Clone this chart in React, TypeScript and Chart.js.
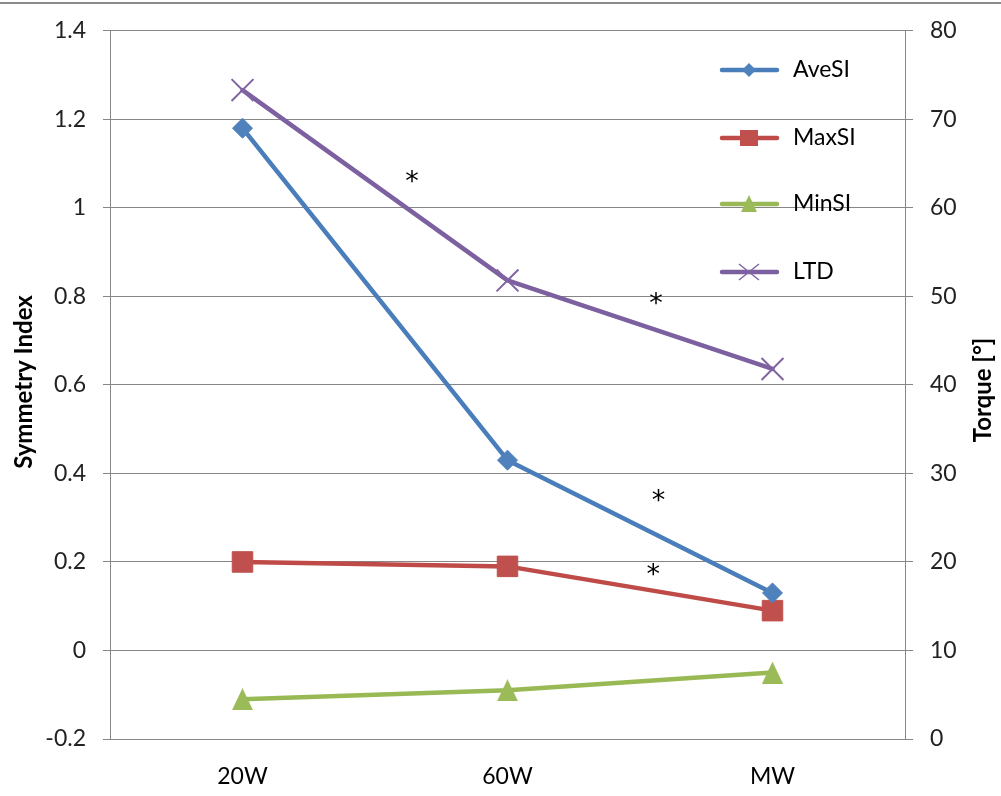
import React, { useEffect, useRef } from 'react';
import { Chart, registerables } from 'chart.js';

Chart.register(...registerables);

const categories = ['20W', '60W', 'MW'];
const aveSI = [1.18, 0.43, 0.13];
const maxSI = [0.2, 0.19, 0.09];
const minSI = [-0.11, -0.09, -0.05];
const ltd = [73.3, 51.8, 41.8];

const leftMin = -0.2;
const leftMax = 1.4;
const leftStep = 0.2;
const rightMin = 0;
const rightMax = 80;
const rightStep = 10;

// significance asterisks: fractional category index and left-axis value
const starX = [0.64, 1.56, 1.57, 1.55];
const starY = [1.07, 0.795, 0.35, 0.184];

const seriesNames = ['AveSI', 'MaxSI', 'MinSI', 'LTD'];

const BLUE = '#4A7EBB';
const BLUE_M = '#4F81BD';
const RED = '#BE4B48';
const RED_M = '#C0504D';
const GREEN = '#98B954';
const GREEN_M = '#9BBB59';
const PURPLE = '#7D60A0';
const PURPLE_M = '#8064A2';
const GRID = '#868686';
const FONT = 'Lato, "Open Sans", sans-serif';

function makeTriangle(w: number, h: number, color: string) {
  const c = document.createElement('canvas');
  c.width = w;
  c.height = h;
  const ctx = c.getContext('2d')!;
  ctx.fillStyle = color;
  ctx.beginPath();
  ctx.moveTo(w / 2, 0);
  ctx.lineTo(w, h);
  ctx.lineTo(0, h);
  ctx.closePath();
  ctx.fill();
  return c;
}

const extrasPlugin = {
  id: 'extras',
  beforeDraw(chart: any) {
    const ctx = chart.ctx;
    ctx.save();
    ctx.fillStyle = '#ffffff';
    ctx.fillRect(0, 0, chart.width, chart.height);
    ctx.fillStyle = '#8a8a8a';
    ctx.fillRect(0, 2, chart.width, 2);
    ctx.restore();
  },
  afterDraw(chart: any) {
    const ctx = chart.ctx;
    const xs = chart.scales.x;
    const ys = chart.scales.y;
    ctx.save();
    // axis titles
    ctx.fillStyle = '#000';
    ctx.font = `bold 24px ${FONT}`;
    ctx.textAlign = 'center';
    ctx.textBaseline = 'middle';
    ctx.save();
    ctx.translate(24, 382);
    ctx.rotate(-Math.PI / 2);
    ctx.fillText('Symmetry Index', 0, 0);
    ctx.restore();
    ctx.save();
    ctx.translate(983, 390);
    ctx.rotate(-Math.PI / 2);
    ctx.fillText('Torque [°]', 0, 0);
    ctx.restore();

    // asterisks
    ctx.font = `27px "DejaVu Sans", sans-serif`;
    ctx.textBaseline = 'alphabetic';
    for (let i = 0; i < starX.length; i++) {
      const px = xs.getPixelForValue(starX[i]);
      const py = ys.getPixelForValue(starY[i]);
      const m = ctx.measureText('*');
      const asc = m.actualBoundingBoxAscent;
      const desc = m.actualBoundingBoxDescent;
      ctx.fillText('*', px, py + (asc - desc) / 2);
    }

    // legend
    const lx0 = 722;
    const lx1 = 777;
    const mx = 749;
    const tx = 793;
    const ly = [70, 138, 204, 272];
    const lineColors = [BLUE, RED, GREEN, PURPLE];
    ctx.font = `23px ${FONT}`;
    ctx.textAlign = 'left';
    ctx.textBaseline = 'middle';
    for (let i = 0; i < 4; i++) {
      const y = ly[i];
      ctx.strokeStyle = lineColors[i];
      ctx.lineWidth = 4.5;
      ctx.lineCap = 'round';
      ctx.beginPath();
      ctx.moveTo(lx0, y);
      ctx.lineTo(lx1, y);
      ctx.stroke();
      if (i === 0) {
        ctx.fillStyle = BLUE_M;
        ctx.beginPath();
        ctx.moveTo(mx, y - 7);
        ctx.lineTo(mx + 7, y);
        ctx.lineTo(mx, y + 7);
        ctx.lineTo(mx - 7, y);
        ctx.closePath();
        ctx.fill();
      } else if (i === 1) {
        ctx.fillStyle = RED_M;
        ctx.fillRect(mx - 9, y - 8, 18, 16);
      } else if (i === 2) {
        ctx.fillStyle = GREEN_M;
        ctx.beginPath();
        ctx.moveTo(mx, y - 9);
        ctx.lineTo(mx + 8, y + 8);
        ctx.lineTo(mx - 8, y + 8);
        ctx.closePath();
        ctx.fill();
      } else {
        ctx.strokeStyle = PURPLE_M;
        ctx.lineWidth = 1.5;
        ctx.lineCap = 'butt';
        ctx.beginPath();
        ctx.moveTo(mx - 10, y - 8);
        ctx.lineTo(mx + 10, y + 8);
        ctx.moveTo(mx + 10, y - 8);
        ctx.lineTo(mx - 10, y + 8);
        ctx.stroke();
      }
      ctx.fillStyle = '#000';
      ctx.fillText(seriesNames[i], tx, y);
    }
    ctx.restore();
  },
};

export default function App() {
  const ref = useRef<HTMLCanvasElement>(null);
  useEffect(() => {
    if (!ref.current) return;
    const tri = makeTriangle(21, 22, GREEN_M);
    const chart = new Chart(ref.current, {
      type: 'line',
      data: {
        labels: categories,
        datasets: [
          {
            label: seriesNames[0],
            data: aveSI,
            yAxisID: 'y',
            borderColor: BLUE,
            borderWidth: 4.5,
            pointStyle: 'rectRot',
            pointRadius: 10,
            pointBackgroundColor: BLUE_M,
            pointBorderColor: BLUE_M,
            pointBorderWidth: 1,
            tension: 0,
            borderJoinStyle: 'round',
            borderCapStyle: 'round',
          },
          {
            label: seriesNames[1],
            data: maxSI,
            yAxisID: 'y',
            borderColor: RED,
            borderWidth: 4.5,
            pointStyle: 'rect',
            pointRadius: 14.5,
            pointBackgroundColor: RED_M,
            pointBorderColor: RED_M,
            pointBorderWidth: 1,
            tension: 0,
            borderJoinStyle: 'round',
            borderCapStyle: 'round',
          },
          {
            label: seriesNames[2],
            data: minSI,
            yAxisID: 'y',
            borderColor: GREEN,
            borderWidth: 4.5,
            pointStyle: tri as any,
            pointRadius: 10,
            tension: 0,
            borderJoinStyle: 'round',
            borderCapStyle: 'round',
          },
          {
            label: seriesNames[3],
            data: ltd,
            yAxisID: 'y1',
            borderColor: PURPLE,
            borderWidth: 4.5,
            pointStyle: 'crossRot',
            pointRadius: 15.5,
            pointBorderColor: PURPLE_M,
            pointBorderWidth: 2,
            tension: 0,
            borderJoinStyle: 'round',
            borderCapStyle: 'round',
          },
        ],
      },
      options: {
        responsive: false,
        animation: false,
        devicePixelRatio: 1,
        layout: { padding: { top: 26, left: 0, right: 0, bottom: 0 } },
        plugins: {
          legend: { display: false },
          tooltip: { enabled: false },
        },
        scales: {
          x: {
            type: 'category',
            offset: true,
            grid: { display: false, drawTicks: false },
            border: { display: false },
            ticks: {
              color: '#000',
              font: { family: FONT, size: 23 },
              padding: 24,
            },
            afterFit: (s: any) => {
              s.height = 57;
            },
          },
          y: {
            position: 'left',
            min: leftMin,
            max: leftMax,
            grid: { color: GRID, lineWidth: 1, tickLength: 7, tickColor: GRID },
            border: { color: GRID, width: 1 },
            ticks: {
              stepSize: leftStep,
              color: '#222',
              font: { family: FONT, size: 23 },
              padding: 17,
              callback: (v: any) => String(Number(Number(v).toFixed(1))),
            },
            afterFit: (s: any) => {
              s.width = 110;
            },
          },
          y1: {
            position: 'right',
            min: rightMin,
            max: rightMax,
            grid: { drawOnChartArea: false, tickLength: 8, color: GRID, tickColor: GRID },
            border: { color: GRID, width: 1 },
            ticks: {
              stepSize: rightStep,
              color: '#222',
              font: { family: FONT, size: 23 },
              padding: 17,
            },
            afterFit: (s: any) => {
              s.width = 96;
            },
          },
        },
      },
      plugins: [extrasPlugin],
    });
    return () => chart.destroy();
  }, []);
  return (
    <div style={{ position: 'absolute', left: 0, top: 0, width: 1001, height: 796, background: '#fff' }}>
      <canvas ref={ref} width={1001} height={796} />
    </div>
  );
}
